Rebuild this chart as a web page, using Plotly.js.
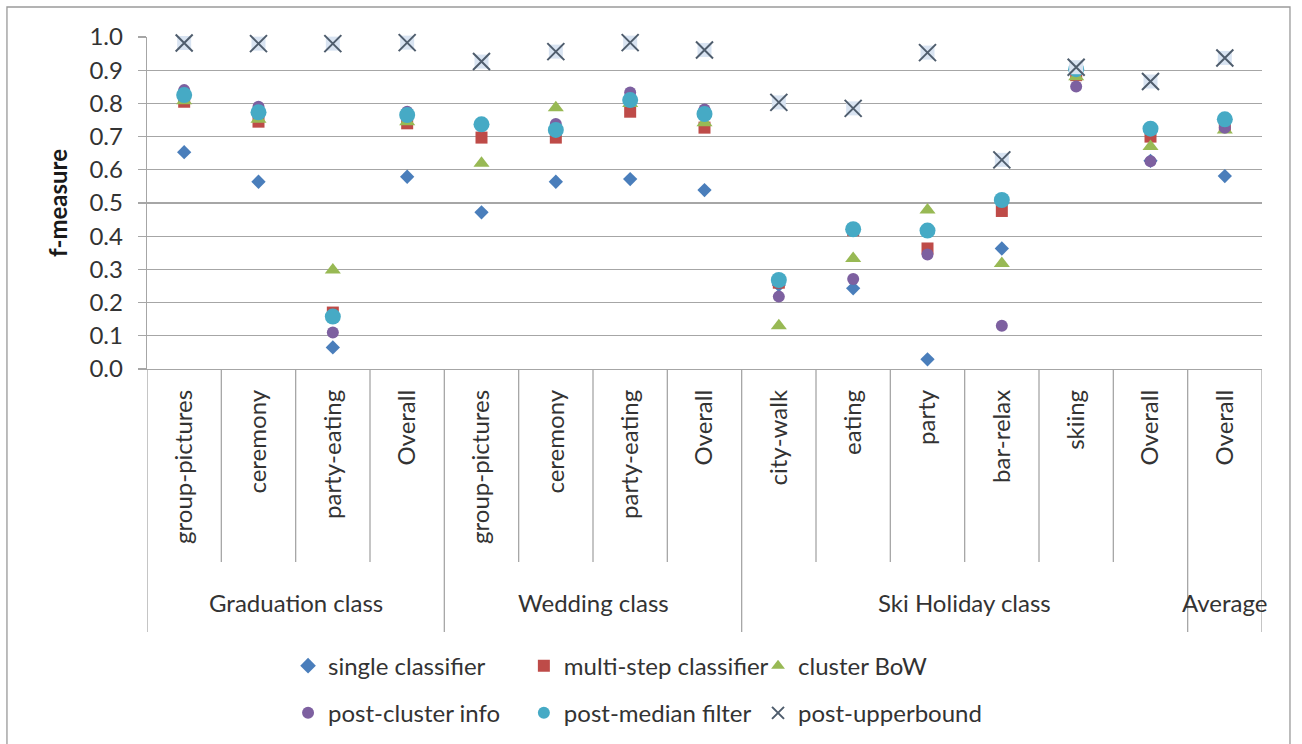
<!DOCTYPE html>
<html>
<head>
<meta charset="utf-8">
<script src="https://cdn.plot.ly/plotly-3.0.1.min.js"></script>
<style>
  html, body { margin: 0; padding: 0; background: #ffffff; }
  #chart { width: 1302px; height: 744px; }
</style>
</head>
<body>
<div id="chart"></div>
<script>
// Scene categories (one column each) and the class they belong to
const categories = [
  'group-pictures', 'ceremony', 'party-eating', 'Overall',
  'group-pictures', 'ceremony', 'party-eating', 'Overall',
  'city-walk', 'eating', 'party', 'bar-relax', 'skiing', 'Overall',
  'Overall'
];
const classGroups = ['Graduation class', 'Wedding class', 'Ski Holiday class', 'Average'];
const classSizes = [4, 4, 6, 1];

// f-measure per method
const singleClassifier    = [0.653, 0.564, 0.065, 0.579, 0.472, 0.564, 0.572, 0.539, 0.253, 0.243, 0.029, 0.363, 0.895, 0.627, 0.581];
const multiStepClassifier = [0.805, 0.745, 0.170, 0.740, 0.697, 0.697, 0.775, 0.727, 0.260, 0.418, 0.363, 0.476, 0.885, 0.700, 0.732];
const clusterBoW          = [0.808, 0.752, 0.298, 0.745, 0.620, 0.787, 0.800, 0.742, 0.130, 0.333, 0.479, 0.318, 0.880, 0.670, 0.720];
const postClusterInfo     = [0.840, 0.790, 0.110, 0.775, 0.735, 0.738, 0.833, 0.782, 0.218, 0.271, 0.345, 0.130, 0.851, 0.626, 0.727];
const postMedianFilter    = [0.825, 0.773, 0.158, 0.765, 0.737, 0.720, 0.810, 0.768, 0.268, 0.421, 0.417, 0.509, 0.903, 0.724, 0.752];
const postUpperbound      = [0.982, 0.980, 0.980, 0.983, 0.926, 0.956, 0.983, 0.961, 0.803, 0.785, 0.953, 0.630, 0.909, 0.866, 0.937];

const yTicks = [0, 0.1, 0.2, 0.3, 0.4, 0.5, 0.6, 0.7, 0.8, 0.9, 1.0];

const xs = categories.map((_, i) => i);
const FONT = 'Lato, "Open Sans", sans-serif';
const TEXT = '#333333';

function series(name, values, marker, legend) {
  return {
    type: 'scatter', mode: 'markers', name: name, x: xs, y: values,
    marker: Object.assign({line: {width: 0}}, marker),
    legend: legend, legendgroup: name, cliponaxis: false, hoverinfo: 'x+y+name'
  };
}

const traces = [
  series('single classifier', singleClassifier, {symbol: 'diamond', size: 11, color: '#4a7ebb'}, 'legend'),
  series('multi-step classifier', multiStepClassifier, {symbol: 'square', size: 12, color: '#be4b48'}, 'legend2'),
  series('cluster BoW', clusterBoW, {symbol: 'triangle-up', size: 14, color: '#98b954'}, 'legend3'),
  series('post-cluster info', postClusterInfo, {symbol: 'circle', size: 12, color: '#7d60a0'}, 'legend'),
  series('post-median filter', postMedianFilter, {symbol: 'circle', size: 16, color: '#46aac5'}, 'legend2'),
  // pale square behind each upper-bound cross
  {
    type: 'scatter', mode: 'markers', x: xs, y: postUpperbound, showlegend: false,
    marker: {symbol: 'square', size: 14, color: '#d9e4f2', line: {width: 0}},
    cliponaxis: false, hoverinfo: 'skip'
  },
  series('post-upperbound', postUpperbound,
    {symbol: 'x-thin', size: 17, color: '#4f5d6d', line: {width: 2, color: '#4f5d6d'}}, 'legend3')
];

// separators under the category axis and class labels
const shapes = [];
const annotations = [];
const innerBottom = -0.581;
const groupBottom = -0.792;
const groupEdges = new Set([-0.5]);
let start = 0;
classSizes.forEach((n, g) => {
  groupEdges.add(start + n - 0.5);
  annotations.push({
    x: start + (n - 1) / 2, xref: 'x', y: -0.702, yref: 'paper',
    text: classGroups[g], showarrow: false, xanchor: 'center', yanchor: 'middle',
    font: {family: FONT, size: 24, color: TEXT}
  });
  start += n;
});
for (let i = 0; i <= categories.length; i++) {
  const xv = i - 0.5;
  shapes.push({
    type: 'line', xref: 'x', yref: 'paper', x0: xv, x1: xv, y0: 0,
    y1: groupEdges.has(xv) ? groupBottom : innerBottom,
    line: {color: '#a6a6a6', width: 1.3}
  });
}
// outer chart frame
shapes.push({
  type: 'rect', xref: 'paper', yref: 'paper',
  x0: -0.1256, x1: 1.0251, y0: -1.2, y1: 1.0904,
  line: {color: '#9a9a9a', width: 1.3}, fillcolor: 'rgba(0,0,0,0)', layer: 'below'
});

const legendBase = {
  orientation: 'v', yanchor: 'top', y: -0.827, xanchor: 'left',
  font: {family: FONT, size: 24, color: TEXT},
  bgcolor: 'rgba(0,0,0,0)', tracegroupgap: 13, itemsizing: 'constant'
};

const layout = {
  width: 1302, height: 744,
  margin: {l: 147, r: 40, t: 37, b: 375, autoexpand: false},
  paper_bgcolor: '#ffffff', plot_bgcolor: '#ffffff',
  font: {family: FONT, color: TEXT},
  showlegend: true,
  legend: Object.assign({}, legendBase, {x: 0.1265}),
  legend2: Object.assign({}, legendBase, {x: 0.338}),
  legend3: Object.assign({}, legendBase, {x: 0.548}),
  xaxis: {
    range: [-0.5, categories.length - 0.5],
    tickmode: 'array', tickvals: xs, ticktext: categories,
    tickangle: -90, ticks: '', showgrid: false, zeroline: false,
    showline: true, linecolor: '#a6a6a6', linewidth: 1.3,
    ticklabelstandoff: 10,
    tickfont: {family: FONT, size: 24, color: TEXT}
  },
  yaxis: {
    range: [0, 1], tickmode: 'array', tickvals: yTicks,
    ticktext: yTicks.map(v => v.toFixed(1)),
    ticks: 'outside', ticklen: 8, tickcolor: '#a6a6a6', tickwidth: 1.3,
    showgrid: true, gridcolor: '#a6a6a6', gridwidth: 1.3,
    zeroline: false, showline: true, linecolor: '#a6a6a6', linewidth: 1.3,
    ticklabelstandoff: 10,
    tickfont: {family: FONT, size: 24, color: TEXT},
    title: {text: '<b>f-measure</b>', font: {family: FONT, size: 24, color: '#1a1a1a'}, standoff: 15}
  },
  shapes: shapes,
  annotations: annotations
};

Plotly.newPlot('chart', traces, layout, {displayModeBar: false, staticPlot: true});
</script>
</body>
</html>
